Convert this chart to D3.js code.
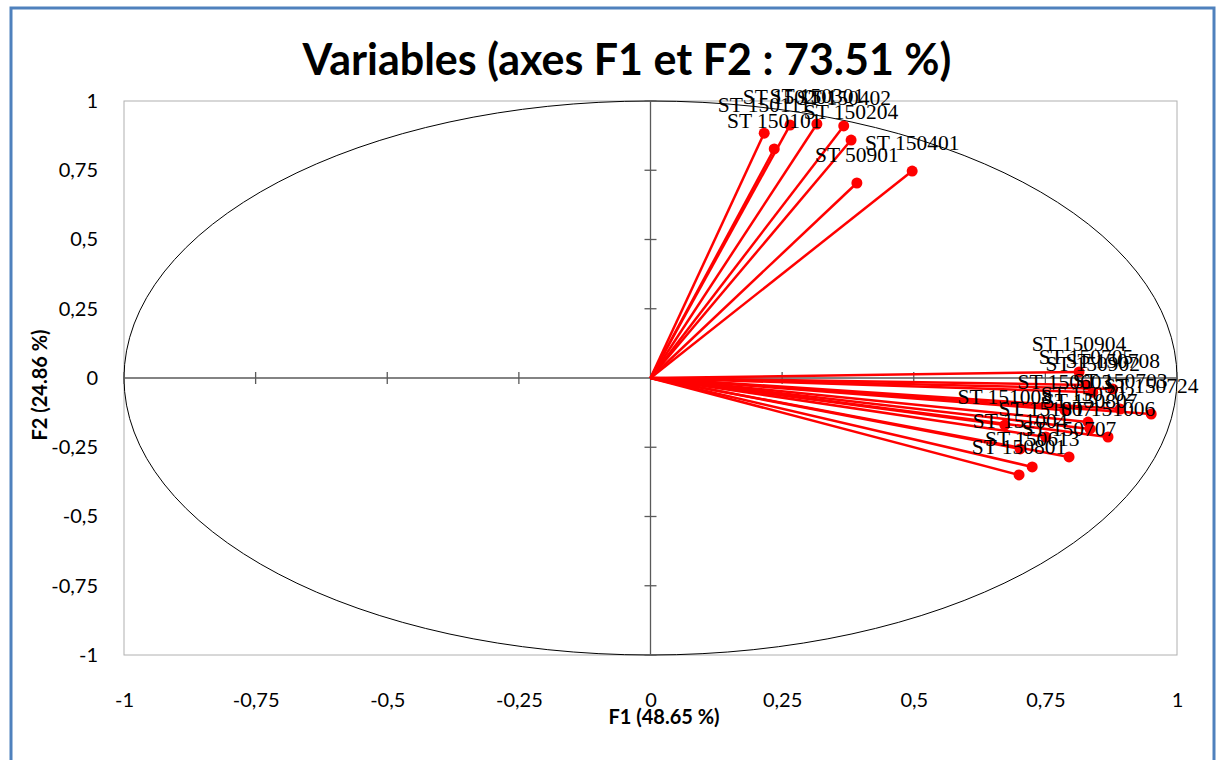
<!DOCTYPE html>
<html>
<head>
<meta charset="utf-8">
<script src="https://cdn.jsdelivr.net/npm/d3@7"></script>
<style>
  body { margin: 0; background: #fff; }
  svg { display: block; }
</style>
</head>
<body>
<svg id="chart" width="1218" height="760"></svg>
<script>
// variable names and their coordinates on F1 / F2
var names = [
  "ST 150111", "ST 150101", "ST 150201", "ST 150301", "ST 150402", "ST 150204",
  "ST 50901", "ST 150401",
  "ST 150904", "ST 150708", "ST 150902", "ST 150705", "ST 150703", "ST 150724",
  "ST 150603", "ST 151008", "ST 150702", "ST 150807", "ST 151007", "ST 151006",
  "ST 151004", "ST 150707", "ST 150613", "ST 150801"
];
var f1 = [
  0.216, 0.235, 0.265, 0.316, 0.367, 0.381,
  0.392, 0.497,
  0.814, 0.878, 0.840, 0.827, 0.892, 0.951,
  0.787, 0.673, 0.831, 0.835, 0.751, 0.869,
  0.702, 0.795, 0.725, 0.700
];
var f2 = [
  0.884, 0.827, 0.913, 0.917, 0.910, 0.859,
  0.704, 0.747,
  0.022, -0.040, -0.051, -0.025, -0.112, -0.130,
  -0.116, -0.170, -0.159, -0.184, -0.213, -0.213,
  -0.256, -0.285, -0.321, -0.350
];
var tickVals = [-1, -0.75, -0.5, -0.25, 0, 0.25, 0.5, 0.75, 1];

var data = names.map(function (n, i) { return { name: n, x: f1[i], y: f2[i] }; });

var svg = d3.select("#chart"),
    W = 1218, H = 760,
    M = { top: 101, right: 41, bottom: 105, left: 124 };

var x = d3.scaleLinear().domain([-1, 1]).range([M.left, W - M.right]);
var y = d3.scaleLinear().domain([-1, 1]).range([H - M.bottom, M.top]);

var fr = d3.formatLocale({ decimal: ",", thousands: " ", grouping: [3], currency: ["", ""] });
var fmt = function (d) { return fr.format("")(d).replace("−", "-"); };

var labelFont = "Lato, 'Open Sans', sans-serif";

// outer frame
svg.append("rect")
  .attr("x", 11).attr("y", 8)
  .attr("width", 1203).attr("height", 770)
  .attr("fill", "none")
  .attr("stroke", "#4f81bd")
  .attr("stroke-width", 3);

// title
svg.append("text")
  .attr("x", 627).attr("y", 75)
  .attr("text-anchor", "middle")
  .style("font-family", labelFont)
  .style("font-weight", "bold")
  .style("font-size", "43px")
  .text("Variables (axes F1 et F2 : 73.51 %)");

// plot area box
svg.append("rect")
  .attr("x", x(-1)).attr("y", y(1))
  .attr("width", x(1) - x(-1)).attr("height", y(-1) - y(1))
  .attr("fill", "none")
  .attr("stroke", "#b0b0b0")
  .attr("stroke-width", 1);

// correlation circle
svg.append("ellipse")
  .attr("cx", x(0)).attr("cy", y(0))
  .attr("rx", x(1) - x(0)).attr("ry", y(0) - y(1))
  .attr("fill", "none")
  .attr("stroke", "#000")
  .attr("stroke-width", 1);

// axes through origin
svg.append("line")
  .attr("x1", x(-1)).attr("x2", x(1))
  .attr("y1", y(0)).attr("y2", y(0))
  .attr("stroke", "#5a5a5a").attr("stroke-width", 1.3);
svg.append("line")
  .attr("x1", x(0)).attr("x2", x(0))
  .attr("y1", y(-1)).attr("y2", y(1))
  .attr("stroke", "#5a5a5a").attr("stroke-width", 1.3);

// crossing tick marks
var inner = tickVals.filter(function (d) { return d !== 0; });
svg.selectAll(".xt").data(inner).enter().append("line")
  .attr("x1", function (d) { return x(d); }).attr("x2", function (d) { return x(d); })
  .attr("y1", y(0) - 6).attr("y2", y(0) + 6)
  .attr("stroke", "#5a5a5a").attr("stroke-width", 1.3);
svg.selectAll(".yt").data(inner).enter().append("line")
  .attr("x1", x(0) - 6).attr("x2", x(0) + 6)
  .attr("y1", function (d) { return y(d); }).attr("y2", function (d) { return y(d); })
  .attr("stroke", "#5a5a5a").attr("stroke-width", 1.3);

// tick labels on the plot edges
var xAxis = d3.axisBottom(x).tickValues(tickVals).tickSize(0).tickPadding(38).tickFormat(fmt);
var gx = svg.append("g")
  .attr("transform", "translate(0," + y(-1) + ")")
  .call(xAxis);
var yAxis = d3.axisLeft(y).tickValues(tickVals).tickSize(0).tickPadding(26).tickFormat(fmt);
var gy = svg.append("g")
  .attr("transform", "translate(" + x(-1) + ",0)")
  .call(yAxis);
[gx, gy].forEach(function (g) {
  g.select(".domain").remove();
  g.selectAll("text")
    .style("font-family", labelFont)
    .style("font-size", "20px")
    .attr("fill", "#000");
});

// axis titles
svg.append("text")
  .attr("x", 664).attr("y", 724)
  .attr("text-anchor", "middle")
  .style("font-family", labelFont)
  .style("font-weight", "bold")
  .style("font-size", "20px")
  .text("F1 (48.65 %)");
svg.append("text")
  .attr("transform", "translate(47,385) rotate(-90)")
  .attr("text-anchor", "middle")
  .style("font-family", labelFont)
  .style("font-weight", "bold")
  .style("font-size", "20px")
  .text("F2 (24.86 %)");

// vectors
svg.selectAll(".vec").data(data).enter().append("line")
  .attr("x1", x(0)).attr("y1", y(0))
  .attr("x2", function (d) { return x(d.x); })
  .attr("y2", function (d) { return y(d.y); })
  .attr("stroke", "#ff0000")
  .attr("stroke-width", 2.5);
svg.selectAll(".pt").data(data).enter().append("circle")
  .attr("cx", function (d) { return x(d.x); })
  .attr("cy", function (d) { return y(d.y); })
  .attr("r", 5.5)
  .attr("fill", "#ff0000");

// variable labels
svg.selectAll(".lab").data(data).enter().append("text")
  .attr("x", function (d) { return x(d.x); })
  .attr("y", function (d) { return y(d.y) - 21; })
  .attr("text-anchor", "middle")
  .style("font-family", "'Liberation Serif', 'Times New Roman', serif")
  .style("font-size", "21.5px")
  .attr("fill", "#000")
  .text(function (d) { return d.name; });
</script>
</body>
</html>
